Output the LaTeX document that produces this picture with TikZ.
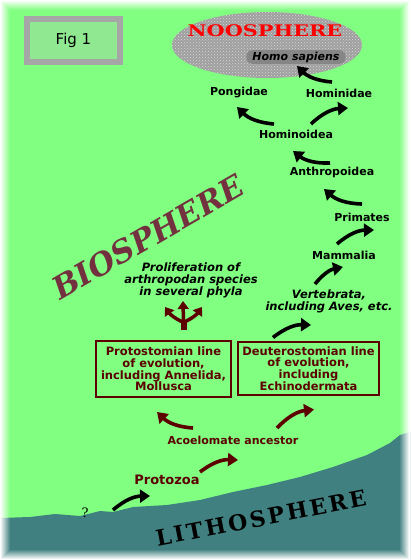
\documentclass[tikz,border=0pt]{standalone}
\usepackage{fontspec}
\setmainfont{DejaVu Sans}
\newfontfamily\biofont{DejaVu Serif}
\newfontfamily\lithofont{DejaVu Serif}[LetterSpace=12]
\newfontfamily\noofont{DejaVu Serif}
\usepackage{tikz}
\usetikzlibrary{positioning, arrows.meta, shapes, calc, patterns}
\definecolor{meadow}{HTML}{80FF80}
\definecolor{rock}{HTML}{408080}
\definecolor{oxblood}{HTML}{5C0000}
\definecolor{brick}{HTML}{73303F}
\definecolor{figgreen}{HTML}{90E890}

\begin{document}
\begin{tikzpicture}[
        x=1pt, y=-1pt,
        taxon/.style={font=\fontsize{11}{12}\selectfont\bfseries, inner sep=1pt},
        note/.style={font=\fontsize{11.5}{12}\selectfont\bfseries\itshape, align=center, inner sep=1pt},
        linebox/.style={draw=oxblood, line width=1.2pt, text=oxblood, align=center, font=\fontsize{11.5}{11.7}\selectfont\bfseries, inner sep=2pt},
        swoosh/.style={line width=3.6pt, -{Triangle[width=13pt,length=10pt]}},
        prong/.style={oxblood, line width=3.5pt, -{Triangle[width=11pt,length=8pt]}}
    ]
    \useasboundingbox (0,0) rectangle (410,560);
    \fill[meadow] (0,0) rectangle (410,560);

    % lithosphere ground
    \fill[rock] (0,518) -- (30,517) -- (55,514) -- (80,516) -- (100,511) -- (113,512)
        -- (133,507) -- (167,505) -- (200,500) -- (233,492) -- (267,485) -- (300,477)
        -- (333,467) -- (367,455) -- (390,443) -- (400,435) -- (410,432)
        -- (410,560) -- (0,560) -- cycle;

    % faded white frame
    \foreach \i in {0,...,9} {
        \draw[white, line width=1pt, opacity={1-\i/10}] (\i+0.5,\i+0.5) rectangle (409.5-\i,559.5-\i);
    }

    \node[draw=gray!70, line width=5.5pt, fill=figgreen, minimum width=93pt, minimum height=43pt,
          font=\fontsize{15}{15}\selectfont] (fig) at (73.5,40.5) {Fig 1};

    \node[ellipse, fill=gray!75, postaction={pattern=crosshatch dots, pattern color=white!70!gray},
          minimum width=190pt, minimum height=66pt] (noosphere) at (267,45) {};
    \node[text=red, font=\noofont\fontsize{16}{16}\selectfont\bfseries, xscale=1.3] (noo) at (265,31) {NOOSPHERE};
    \node[fill=gray!95, rounded corners=6pt, inner xsep=6pt, inner ysep=1.5pt,
          font=\fontsize{11}{12}\selectfont\bfseries\itshape] (homo) at (296,57) {Homo sapiens};

    \node[rotate=30, text=brick, font=\biofont\fontsize{31}{31}\selectfont\bfseries\itshape] (bio) at (148,237) {BIOSPHERE};
    \node[rotate=11, font=\lithofont\fontsize{22}{22}\selectfont\bfseries] (litho) at (261,518) {LITHOSPHERE};

    \node[taxon] (pongidae) at (239,93) {Pongidae};
    \node[taxon] (hominidae) at (339,93) {Hominidae};
    \node[taxon] (hominoidea) at (296,134) {Hominoidea};
    \node[taxon] (anthro) at (332,172) {Anthropoidea};
    \node[taxon] (primates) at (362,217) {Primates};
    \node[taxon] (mammalia) at (344,255) {Mammalia};
    \node[note] (vert) at (329,301) {Vertebrata,\\including Aves, etc.};
    \node[note] (prolif) at (191,280) {Proliferation of\\arthropodan species\\in several phyla};

    \node[linebox, minimum width=135pt, minimum height=56pt] (proto) at (163.5,369)
        {Protostomian line\\of evolution,\\including Annelida,\\Mollusca};
    \node[linebox, minimum width=141pt, minimum height=53pt] (deutero) at (308.5,368.5)
        {Deuterostomian line\\of evolution,\\including\\Echinodermata};

    \node[taxon, text=oxblood] (acoel) at (233,440) {Acoelomate ancestor};
    \node[taxon, text=oxblood, font=\fontsize{13}{13}\selectfont\bfseries] (protozoa) at (167,480) {Protozoa};
    \node[font=\noofont\fontsize{13}{13}\selectfont] (q) at (85,513) {?};

    % lines of descent
    \draw[swoosh] ([shift={(28,-3)}]q.center) to[bend left=20] ([shift={(-17,16)}]protozoa.center);
    \draw[swoosh, oxblood] ([shift={(33,-8)}]protozoa.center) to[bend left=20] ([shift={(5,20)}]acoel.center);
    \draw[swoosh, oxblood] ([shift={(-40,-12)}]acoel.center) to[bend left=20] ([shift={(-6.5,43)}]proto.center);
    \draw[swoosh, oxblood] ([shift={(44,-12)}]acoel.center) to[bend left=20] ([shift={(5.5,41)}]deutero.center);
    \draw[swoosh] ([shift={(-35.5,-31)}]deutero.center) to[bend left=20] ([shift={(-18,24)}]vert.center);
    \draw[swoosh] ([shift={(-14,-17)}]vert.center) to[bend left=20] ([shift={(-1,12)}]mammalia.center);
    \draw[swoosh] ([shift={(-7,-11)}]mammalia.center) to[bend left=20] ([shift={(12,13)}]primates.center);
    \draw[swoosh] ([shift={(0,-13)}]primates.center) to[bend left=20] ([shift={(-8,17)}]anthro.center);
    \draw[swoosh] ([shift={(-2,-9)}]anthro.center) to[bend left=20] ([shift={(-3,17)}]hominoidea.center);
    \draw[swoosh] ([shift={(-22,-10)}]hominoidea.center) to[bend left=20] ([shift={(-2,14)}]pongidae.center);
    \draw[swoosh] ([shift={(15,-10)}]hominoidea.center) to[bend left=20] ([shift={(9,15)}]hominidae.center);
    \draw[swoosh] ([shift={(-7,-11)}]hominidae.center) to[bend left=20] ([shift={(1,9)}]homo.center);

    % arthropod fan
    \coordinate (fork) at ([shift={(20,-18)}]proto.north);
    \draw[oxblood, line width=6pt] ([shift={(20,-10)}]proto.north) -- (fork);
    \draw[prong] (fork) -- ([shift={(-8,21)}]prolif.center);
    \draw[prong] (fork) to[bend left=15] ([shift={(-26,27)}]prolif.center);
    \draw[prong] (fork) to[bend right=15] ([shift={(11,27)}]prolif.center);
\end{tikzpicture}
\end{document}
